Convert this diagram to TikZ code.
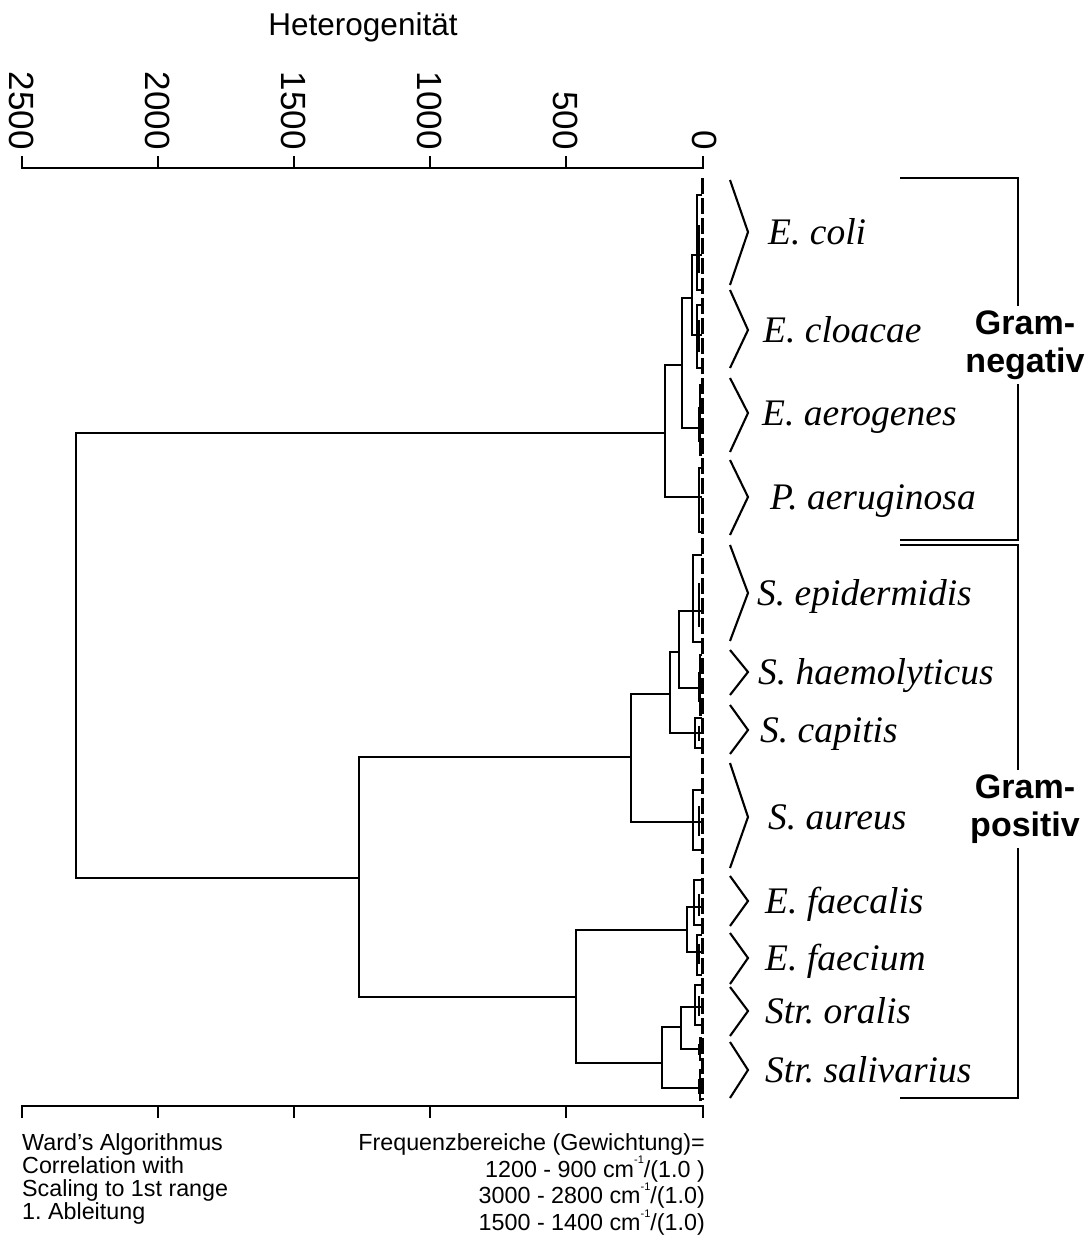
\documentclass[tikz,border=0pt]{standalone}
\usepackage{fontspec}
\setmainfont{Liberation Serif}
\setsansfont{Liberation Sans}
\frenchspacing
\newcommand\leafcl[5]{%
  \coordinate (#1) at (#2,#3);
  \draw[den] (702,#4) -- (#2,#4) -- (#2,#5) -- (702,#5);
  \draw[den] (#1) -- (702,#3);
  \draw[den] (699,{#4+(#3-#4)/2}) -- (699,{#3+(#5-#3)/2});
}
\newcommand\chev[6]{%
  \coordinate (#1) at (748,#3);
  \draw[den] (730,#2) -- (#1) -- (730,#4);
  \node[lab] (#1l) at (#5,{#3+12}) {#6};
}
\begin{document}
\begin{tikzpicture}[x=1pt,y=-1pt,
  den/.style={line width=2.1pt},
  lab/.style={font=\fontsize{37.5}{40}\selectfont\itshape, anchor=base west, inner sep=0pt},
  ticklab/.style={font=\sffamily\fontsize{35}{35}\selectfont, rotate=-90, anchor=east, inner sep=0pt},
  gram/.style={font=\sffamily\bfseries\fontsize{34}{38}\selectfont, align=center, fill=white, inner sep=5pt},
  note/.style={font=\sffamily\fontsize{23.3}{23}\selectfont, inner sep=0pt}]
\useasboundingbox (0,0) rectangle (1085,1239);

% title
\node[font=\sffamily\fontsize{31.5}{31}\selectfont] (title) at (363,27) {Heterogenität};

% top axis
\draw[den] (22,156) -- (22,168) -- (703,168) -- (703,156);
\foreach \xx in {158,294,430,566} \draw[den] (\xx,156) -- (\xx,168);
\node[ticklab] (t2500) at (22,150) {2500};
\node[ticklab] (t2000) at (158,150) {2000};
\node[ticklab] (t1500) at (294,150) {1500};
\node[ticklab] (t1000) at (430,150) {1000};
\node[ticklab] (t500)  at (566,150) {500};
\node[ticklab] (t0)    at (705,150) {0};

% bottom axis
\draw[den] (22,1118) -- (22,1106) -- (703,1106) -- (703,1118);
\foreach \xx in {158,294,430,566} \draw[den] (\xx,1106) -- (\xx,1118);

% leaf clusters
\leafcl{coli}{697}{255}{195}{290}
\leafcl{cloac}{697}{335}{305}{368}
\leafcl{aerog}{700}{428}{385}{455}
\leafcl{aerug}{699}{497}{468}{532}
\leafcl{epid}{693}{611}{555}{642}
\leafcl{haemo}{700}{688}{655}{715}
\leafcl{capit}{695}{733}{718}{748}
\leafcl{aureus}{693}{822}{790}{850}
\leafcl{faecal}{694}{907}{880}{925}
\leafcl{faecium}{697}{952}{935}{975}
\leafcl{oralis}{695}{1007}{985}{1025}
\leafcl{salA}{700}{1049}{1038}{1060}
\leafcl{salB}{700}{1088}{1070}{1100}
\draw[line width=3pt, dash pattern=on 16pt off 4pt] (702,178) -- (702,1100);

% joins
\coordinate (A1) at (692,298);
\coordinate (A)  at (682,365);
\coordinate (GN) at (665,433);
\coordinate (S1) at (679,652);
\coordinate (S2) at (670,694);
\coordinate (ST) at (631,757);
\coordinate (EN) at (687,930);
\coordinate (SR1) at (681,1027);
\coordinate (SR) at (662,1063);
\coordinate (ES) at (576,997);
\coordinate (GP) at (359,878);
\coordinate (R)  at (76,655);
\draw[den] (coli) -| (A1) |- (cloac);
\draw[den] (A1) -| (A) |- (aerog);
\draw[den] (A) -| (GN) |- (aerug);
\draw[den] (epid) -| (S1) |- (haemo);
\draw[den] (S1) -| (S2) |- (capit);
\draw[den] (S2) -| (ST) |- (aureus);
\draw[den] (faecal) -| (EN) |- (faecium);
\draw[den] (oralis) -| (SR1) |- (salA);
\draw[den] (SR1) -| (SR) |- (salB);
\draw[den] (EN) -| (ES) |- (SR);
\draw[den] (ST) -| (GP) |- (ES);
\draw[den] (GN) -| (R) |- (GP);

% chevrons and labels
\chev{kcoli}{180}{232}{285}{768}{E. coli}
\chev{kcloac}{290}{330}{368}{763}{E. cloacae}
\chev{kaerog}{378}{413}{452}{762}{E. aerogenes}
\chev{kaerug}{460}{497}{535}{770}{P. aeruginosa}
\chev{kepid}{545}{593}{641}{757}{S. epidermidis}
\chev{khaemo}{650}{672}{695}{758}{S. haemolyticus}
\chev{kcapit}{705}{730}{754}{760}{S. capitis}
\chev{kaureus}{763}{817}{868}{768}{S. aureus}
\chev{kfaecal}{876}{901}{926}{765}{E. faecalis}
\chev{kfaecium}{933}{958}{984}{765}{E. faecium}
\chev{koralis}{987}{1011}{1036}{765}{Str. oralis}
\chev{ksal}{1042}{1070}{1098}{765}{Str. salivarius}

% brackets
\coordinate (gnT) at (900,178);
\coordinate (gnB) at (900,540);
\coordinate (gpT) at (900,545);
\coordinate (gpB) at (900,1098);
\draw[den] (gnT) -| (1018,359) |- (gnB);
\draw[den] (gpT) -| (1018,820) |- (gpB);
\node[gram] (gneg) at (1025,345) {Gram-\\negativ};
\node[gram] (gpos) at (1025,809) {Gram-\\positiv};

% notes
\node[note, align=left, anchor=north west] (ward) at (22,1133)
  {Ward’s Algorithmus\\Correlation with\\Scaling to 1st range\\1. Ableitung};
\node[note, align=right, anchor=north east] (freq) at (705,1133)
  {Frequenzbereiche (Gewichtung)=\\
   1200 - 900 cm\raisebox{1.1ex}{\fontsize{11}{11}\selectfont -1}/(1.0 )\\
   3000 - 2800 cm\raisebox{1.1ex}{\fontsize{11}{11}\selectfont -1}/(1.0)\\
   1500 - 1400 cm\raisebox{1.1ex}{\fontsize{11}{11}\selectfont -1}/(1.0)};
\end{tikzpicture}
\end{document}
